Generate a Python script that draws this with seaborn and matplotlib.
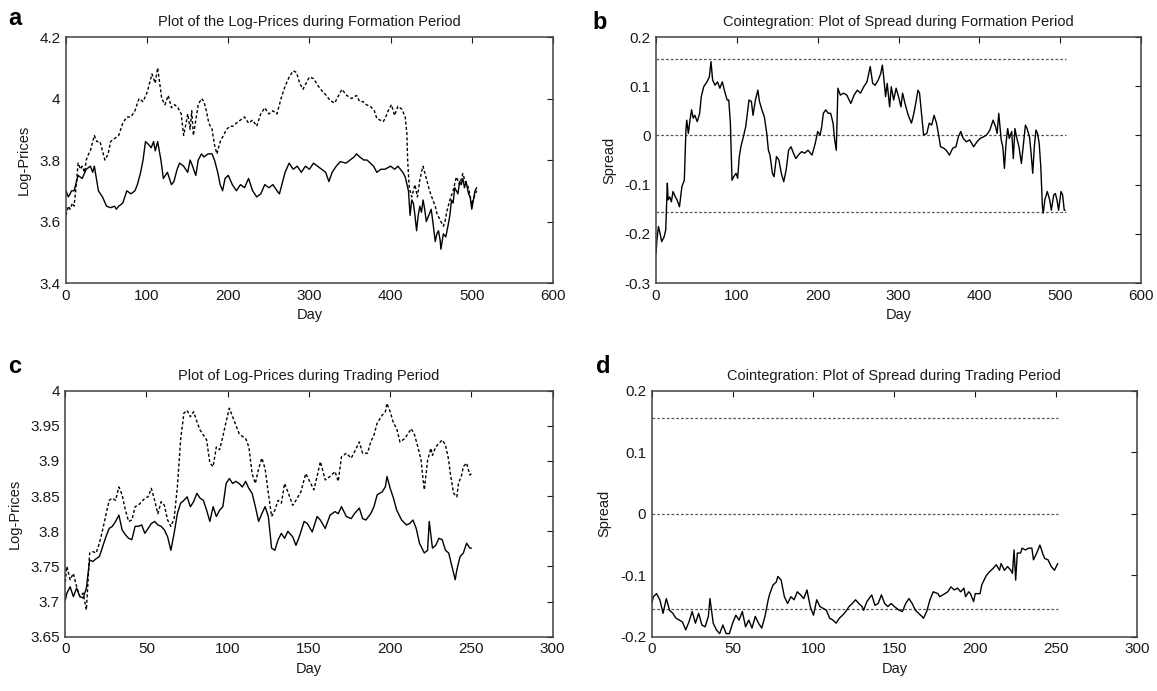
import numpy as np
import matplotlib
matplotlib.use("Agg")
import matplotlib.pyplot as plt
import seaborn as sns

# ---- panel a: log-prices, formation period ----
a_day_1 = [0, 3, 7, 10, 15, 20, 25, 30, 33, 35, 40, 45, 50, 55, 60, 62, 65, 70, 75, 80, 85, 88, 92, 95,
           98, 102, 105, 108, 110, 113, 117, 120, 125, 130, 133, 137, 140, 145, 150, 153, 156, 160, 163,
           167, 170, 175, 180, 183, 187, 190, 193, 196, 200, 205, 210, 215, 220, 225, 230, 235, 240, 245,
           250, 255, 260, 263, 266, 270, 275, 280, 285, 290, 295, 300, 305, 310, 315, 320, 324, 328, 333,
           338, 345, 350, 355, 358, 362, 367, 371, 375, 379, 383, 388, 393, 400, 405, 409, 412, 415, 418,
           422, 424, 426, 428, 430, 432, 434, 436, 438, 440, 442, 444, 447, 450, 452, 455, 457, 459, 461,
           462, 465, 468, 471, 473, 475, 477, 479, 481, 483, 485, 487, 489, 491, 493, 496, 498, 500, 502,
           504, 506]
a_price_1 = [3.70, 3.68, 3.70, 3.70, 3.75, 3.74, 3.77, 3.78, 3.76, 3.78, 3.70, 3.68, 3.65, 3.645, 3.65,
             3.64, 3.65, 3.66, 3.70, 3.69, 3.70, 3.72, 3.76, 3.80, 3.86, 3.85, 3.84, 3.86, 3.83, 3.86,
             3.80, 3.74, 3.76, 3.72, 3.73, 3.77, 3.79, 3.78, 3.76, 3.80, 3.78, 3.75, 3.80, 3.82, 3.81,
             3.82, 3.82, 3.80, 3.76, 3.72, 3.70, 3.74, 3.75, 3.72, 3.70, 3.72, 3.71, 3.74, 3.70, 3.68,
             3.69, 3.72, 3.71, 3.72, 3.70, 3.69, 3.72, 3.76, 3.79, 3.77, 3.78, 3.76, 3.78, 3.77, 3.79,
             3.78, 3.77, 3.76, 3.73, 3.76, 3.78, 3.795, 3.79, 3.80, 3.81, 3.82, 3.81, 3.80, 3.80, 3.79,
             3.78, 3.76, 3.77, 3.77, 3.78, 3.77, 3.78, 3.77, 3.76, 3.745, 3.70, 3.62, 3.67, 3.66, 3.62,
             3.57, 3.62, 3.65, 3.63, 3.67, 3.64, 3.60, 3.62, 3.64, 3.60, 3.535, 3.56, 3.57, 3.54, 3.51,
             3.56, 3.55, 3.59, 3.62, 3.67, 3.66, 3.71, 3.70, 3.69, 3.73, 3.72, 3.74, 3.71, 3.73, 3.69,
             3.68, 3.64, 3.67, 3.70, 3.71]

a_day_2 = [0, 3, 5, 8, 10, 12, 15, 18, 20, 23, 25, 28, 30, 33, 35, 38, 42, 45, 48, 52, 55, 60, 65, 70,
           75, 80, 85, 90, 95, 100, 103, 106, 110, 113, 115, 118, 122, 126, 130, 134, 138, 142, 145,
           148, 150, 153, 155, 157, 160, 163, 167, 170, 173, 176, 180, 183, 186, 190, 194, 198, 202,
           206, 210, 215, 220, 225, 230, 235, 240, 245, 250, 255, 260, 265, 270, 275, 280, 284, 288,
           292, 296, 300, 305, 311, 317, 321, 325, 331, 336, 340, 346, 352, 358, 362, 366, 370, 375,
           380, 383, 387, 391, 394, 397, 401, 405, 409, 414, 418, 420, 421, 423, 426, 428, 430, 433,
           436, 438, 440, 442, 444, 446, 448, 452, 455, 457, 461, 465, 467, 469, 473, 477, 481, 485,
           489, 492, 496, 500, 503, 506]
a_price_2 = [3.62, 3.65, 3.64, 3.66, 3.65, 3.70, 3.79, 3.77, 3.78, 3.76, 3.80, 3.82, 3.83, 3.86, 3.88,
             3.86, 3.86, 3.83, 3.80, 3.82, 3.86, 3.87, 3.88, 3.92, 3.94, 3.94, 3.96, 4.00, 3.99, 4.02,
             4.05, 4.08, 4.05, 4.10, 4.06, 4.00, 3.98, 4.01, 3.97, 3.98, 3.97, 3.95, 3.88, 3.92, 3.95,
             3.90, 3.96, 3.88, 3.93, 3.98, 4.00, 3.99, 3.96, 3.92, 3.90, 3.85, 3.82, 3.86, 3.88, 3.90,
             3.91, 3.91, 3.92, 3.93, 3.94, 3.92, 3.93, 3.91, 3.95, 3.97, 3.95, 3.96, 3.95, 4.00, 4.04,
             4.07, 4.09, 4.085, 4.05, 4.03, 4.05, 4.07, 4.065, 4.04, 4.02, 4.01, 3.995, 3.985, 4.01,
             4.03, 4.01, 4.00, 4.01, 3.99, 3.99, 3.98, 3.975, 3.96, 3.935, 3.93, 3.925, 3.94, 3.96,
             3.98, 3.945, 3.975, 3.965, 3.94, 3.887, 3.80, 3.71, 3.68, 3.70, 3.72, 3.68, 3.735, 3.76,
             3.78, 3.76, 3.74, 3.72, 3.70, 3.67, 3.65, 3.627, 3.605, 3.585, 3.60, 3.63, 3.67, 3.70,
             3.745, 3.72, 3.756, 3.73, 3.71, 3.655, 3.68, 3.70]

# ---- panel b: spread, formation period ----
b_day = [0, 1, 3, 5, 7, 10, 12, 14, 15, 17, 19, 21, 24, 26, 29, 32, 35, 37, 38, 40, 42, 44, 46, 48, 51,
         54, 56, 59, 63, 66, 68, 70, 73, 76, 79, 82, 85, 88, 90, 92, 94, 96, 99, 101, 103, 105, 108,
         111, 113, 115, 118, 120, 123, 126, 128, 131, 134, 137, 139, 141, 144, 146, 149, 152, 155, 158,
         161, 164, 167, 170, 173, 176, 180, 184, 188, 193, 197, 200, 203, 205, 207, 210, 213, 216, 219,
         221, 223, 225, 228, 232, 236, 241, 245, 249, 253, 257, 261, 265, 268, 271, 275, 278, 280, 282,
         284, 286, 289, 291, 294, 297, 300, 303, 305, 308, 312, 316, 319, 322, 324, 326, 328, 331, 335,
         338, 341, 344, 347, 350, 352, 356, 359, 363, 367, 371, 374, 377, 380, 384, 388, 393, 397, 401,
         405, 409, 413, 417, 420, 422, 424, 427, 429, 431, 433, 435, 437, 440, 442, 444, 446, 449, 452,
         455, 457, 459, 462, 464, 466, 468, 470, 472, 474, 476, 478, 479, 481, 484, 487, 489, 492, 494,
         496, 498, 501, 503, 505, 506]
b_spread = [-0.24, -0.215, -0.185, -0.199, -0.216, -0.206, -0.192, -0.097, -0.131, -0.125, -0.135,
            -0.114, -0.125, -0.131, -0.145, -0.104, -0.091, 0.011, 0.031, 0.004, 0.031, 0.052, 0.035,
            0.041, 0.028, 0.045, 0.079, 0.099, 0.109, 0.119, 0.150, 0.113, 0.102, 0.109, 0.096, 0.109,
            0.089, 0.072, 0.072, 0.025, -0.091, -0.084, -0.077, -0.087, -0.043, -0.023, -0.003, 0.018,
            0.045, 0.072, 0.069, 0.041, 0.072, 0.092, 0.069, 0.052, 0.038, 0.004, -0.030, -0.040,
            -0.077, -0.084, -0.043, -0.050, -0.077, -0.094, -0.070, -0.030, -0.023, -0.036, -0.047,
            -0.040, -0.033, -0.036, -0.030, -0.040, -0.016, 0.008, 0.001, 0.018, 0.045, 0.052, 0.045,
            0.045, 0.025, -0.009, -0.030, 0.096, 0.082, 0.086, 0.082, 0.065, 0.082, 0.092, 0.086, 0.099,
            0.109, 0.140, 0.106, 0.102, 0.113, 0.126, 0.143, 0.113, 0.079, 0.106, 0.058, 0.099, 0.072,
            0.096, 0.079, 0.058, 0.086, 0.065, 0.041, 0.025, 0.045, 0.072, 0.092, 0.086, 0.052, 0.001,
            0.004, 0.025, 0.021, 0.041, 0.025, -0.003, -0.023, -0.026, -0.030, -0.040, -0.026, -0.023,
            -0.003, 0.008, -0.006, -0.013, -0.009, -0.023, -0.013, -0.006, -0.003, 0.001, 0.011, 0.031,
            0.018, 0.004, 0.045, -0.009, -0.023, -0.067, -0.016, 0.014, -0.006, 0.008, -0.047, 0.014,
            -0.003, -0.023, -0.057, -0.009, 0.021, 0.014, -0.003, -0.036, -0.077, -0.023, 0.011, 0.004,
            -0.016, -0.064, -0.145, -0.158, -0.131, -0.114, -0.131, -0.152, -0.121, -0.118, -0.131,
            -0.152, -0.114, -0.121, -0.152, -0.152]

# ---- panel c: log-prices, trading period ----
c_day_1 = [0, 1, 3, 5, 7, 9, 11, 13, 15, 17, 19, 21, 23, 25, 27, 29, 31, 33, 35, 37, 39, 41, 43, 45, 47,
           49, 51, 53, 55, 57, 59, 61, 63, 65, 67, 69, 71, 73, 75, 77, 79, 81, 83, 85, 87, 89, 91, 93, 95,
           97, 99, 101, 103, 105, 107, 109, 111, 113, 115, 117, 119, 121, 123, 125, 127, 129, 131, 133,
           135, 137, 140, 142, 144, 147, 149, 152, 155, 157, 160, 163, 166, 168, 170, 173, 176, 178, 181,
           183, 185, 188, 190, 192, 195, 197, 198, 200, 202, 204, 207, 210, 212, 214, 216, 218, 221, 223,
           224, 226, 228, 230, 232, 234, 236, 238, 240, 241, 243, 245, 247, 249, 250]
c_price_1 = [3.702, 3.712, 3.721, 3.707, 3.719, 3.707, 3.705, 3.719, 3.759, 3.757, 3.761, 3.764, 3.778,
             3.792, 3.804, 3.807, 3.814, 3.823, 3.802, 3.795, 3.790, 3.788, 3.807, 3.807, 3.809, 3.797,
             3.804, 3.811, 3.814, 3.809, 3.807, 3.802, 3.792, 3.773, 3.797, 3.825, 3.840, 3.844, 3.849,
             3.835, 3.842, 3.854, 3.847, 3.844, 3.830, 3.814, 3.835, 3.821, 3.830, 3.835, 3.868, 3.875,
             3.868, 3.871, 3.868, 3.863, 3.871, 3.861, 3.854, 3.835, 3.814, 3.825, 3.835, 3.821, 3.776,
             3.773, 3.788, 3.797, 3.790, 3.800, 3.792, 3.780, 3.792, 3.814, 3.811, 3.799, 3.821, 3.816,
             3.804, 3.823, 3.828, 3.825, 3.835, 3.821, 3.818, 3.825, 3.833, 3.818, 3.816, 3.825, 3.835,
             3.852, 3.856, 3.863, 3.878, 3.861, 3.847, 3.830, 3.816, 3.809, 3.811, 3.816, 3.804, 3.783,
             3.769, 3.773, 3.814, 3.776, 3.780, 3.790, 3.788, 3.773, 3.769, 3.750, 3.731, 3.745, 3.764,
             3.769, 3.783, 3.776, 3.776]

c_day_2 = [0, 1, 3, 5, 7, 9, 11, 13, 15, 17, 19, 21, 23, 25, 27, 29, 31, 33, 35, 37, 39, 41, 43, 45, 47,
           49, 51, 53, 55, 57, 59, 61, 63, 65, 67, 69, 71, 73, 75, 77, 79, 81, 83, 85, 87, 89, 91, 93, 95,
           97, 99, 101, 103, 105, 107, 109, 111, 113, 115, 117, 119, 121, 123, 125, 127, 129, 131, 133,
           135, 137, 140, 142, 145, 148, 150, 153, 155, 157, 160, 163, 166, 168, 170, 173, 176, 178, 181,
           183, 186, 188, 190, 192, 195, 197, 198, 200, 202, 204, 206, 209, 211, 213, 215, 217, 219, 220,
           221, 223, 225, 226, 228, 230, 232, 234, 236, 237, 239, 241, 242, 244, 245, 247, 249, 250]
c_price_2 = [3.728, 3.750, 3.731, 3.740, 3.721, 3.707, 3.712, 3.688, 3.769, 3.771, 3.769, 3.783, 3.802,
             3.823, 3.844, 3.847, 3.844, 3.863, 3.852, 3.830, 3.814, 3.816, 3.835, 3.837, 3.842, 3.847,
             3.849, 3.861, 3.844, 3.825, 3.842, 3.837, 3.816, 3.807, 3.818, 3.863, 3.930, 3.968, 3.972,
             3.963, 3.970, 3.956, 3.944, 3.937, 3.930, 3.897, 3.892, 3.920, 3.916, 3.935, 3.956, 3.975,
             3.963, 3.951, 3.939, 3.935, 3.932, 3.920, 3.882, 3.868, 3.889, 3.904, 3.889, 3.854, 3.821,
             3.830, 3.844, 3.840, 3.868, 3.856, 3.837, 3.844, 3.856, 3.882, 3.873, 3.859, 3.878, 3.899,
             3.873, 3.878, 3.885, 3.871, 3.906, 3.911, 3.904, 3.913, 3.927, 3.911, 3.911, 3.927, 3.937,
             3.954, 3.965, 3.970, 3.982, 3.970, 3.954, 3.946, 3.927, 3.932, 3.939, 3.946, 3.937, 3.920,
             3.901, 3.878, 3.859, 3.901, 3.918, 3.908, 3.920, 3.925, 3.930, 3.923, 3.901, 3.882, 3.854,
             3.849, 3.868, 3.880, 3.892, 3.897, 3.880, 3.882]

# ---- panel d: spread, trading period ----
d_day = [0, 1, 3, 5, 7, 9, 11, 13, 15, 17, 19, 21, 23, 25, 27, 29, 31, 33, 35, 36, 38, 40, 42, 44, 46,
         48, 50, 52, 54, 56, 58, 60, 62, 64, 66, 68, 70, 72, 73, 75, 77, 78, 80, 82, 84, 86, 88, 90, 92,
         94, 96, 98, 100, 102, 104, 106, 108, 110, 112, 114, 116, 118, 120, 122, 124, 126, 128, 130, 131,
         133, 136, 138, 140, 142, 144, 146, 148, 150, 153, 155, 157, 159, 161, 163, 165, 167, 168, 170,
         172, 174, 177, 178, 180, 183, 185, 187, 189, 191, 193, 194, 196, 197, 199, 200, 203, 204, 206,
         207, 209, 211, 213, 215, 216, 218, 220, 222, 223, 224, 225, 226, 228, 229, 231, 233, 235, 236,
         238, 240, 242, 243, 245, 247, 249, 251]
d_spread = [-0.146, -0.135, -0.130, -0.140, -0.162, -0.138, -0.157, -0.162, -0.170, -0.173, -0.176,
            -0.189, -0.176, -0.159, -0.178, -0.162, -0.181, -0.184, -0.167, -0.138, -0.178, -0.189,
            -0.195, -0.181, -0.195, -0.195, -0.178, -0.165, -0.173, -0.159, -0.184, -0.173, -0.186,
            -0.167, -0.178, -0.186, -0.167, -0.140, -0.130, -0.116, -0.111, -0.102, -0.108, -0.135,
            -0.146, -0.135, -0.140, -0.127, -0.132, -0.138, -0.124, -0.151, -0.165, -0.140, -0.151,
            -0.154, -0.157, -0.170, -0.173, -0.178, -0.170, -0.165, -0.159, -0.151, -0.146, -0.140,
            -0.146, -0.151, -0.157, -0.143, -0.132, -0.149, -0.146, -0.132, -0.146, -0.151, -0.146,
            -0.151, -0.157, -0.159, -0.146, -0.138, -0.146, -0.157, -0.162, -0.167, -0.170, -0.159,
            -0.140, -0.127, -0.130, -0.135, -0.132, -0.127, -0.119, -0.124, -0.121, -0.127, -0.121,
            -0.135, -0.127, -0.130, -0.143, -0.130, -0.130, -0.116, -0.105, -0.100, -0.094, -0.089,
            -0.083, -0.092, -0.081, -0.092, -0.086, -0.092, -0.097, -0.059, -0.108, -0.064, -0.064,
            -0.056, -0.059, -0.056, -0.056, -0.075, -0.064, -0.051, -0.067, -0.073, -0.075, -0.086,
            -0.092, -0.081]

threshold = 0.155
b_last_day = 507
d_last_day = 251

sns.set_style("white")
plt.rcParams['font.family'] = ['Liberation Sans', 'DejaVu Sans']

fig = plt.figure(figsize=(11.57, 6.91), dpi=100)
ax_a = fig.add_axes([0.0570, 0.5904, 0.4209, 0.3560])
ax_b = fig.add_axes([0.5670, 0.5904, 0.4192, 0.3560])
ax_c = fig.add_axes([0.0564, 0.0786, 0.4213, 0.3560])
ax_d = fig.add_axes([0.5633, 0.0786, 0.4194, 0.3560])

dash = (0, (2.2, 1.6))
ink = '0.1'


def style_axes(ax, title, ylabel):
    ax.set_title(title, fontsize=10.5, pad=8, color=ink)
    ax.set_xlabel("Day", fontsize=10.5, labelpad=4, color=ink)
    ax.set_ylabel(ylabel, fontsize=10.5, labelpad=6, color=ink)
    ax.tick_params(direction='in', top=True, right=True, length=4, width=0.8,
                   labelsize=11, pad=4, colors=ink)
    for s in ax.spines.values():
        s.set_color('0.25')
        s.set_linewidth(1.1)


def spread_lines(ax, last_day):
    for lvl in [threshold, 0, -threshold]:
        ax.hlines(lvl, 0, last_day, colors='0.35', linestyles=[dash], linewidth=0.9)


# a
sns.lineplot(x=a_day_1, y=a_price_1, ax=ax_a, color='black', linewidth=1.0, estimator=None)
sns.lineplot(x=a_day_2, y=a_price_2, ax=ax_a, color='black', linewidth=1.0, estimator=None,
             linestyle=dash)
ax_a.set_xlim(0, 600)
ax_a.set_ylim(3.4, 4.2)
ax_a.set_xticks(range(0, 601, 100))
ax_a.set_yticks([3.4, 3.6, 3.8, 4.0, 4.2])
ax_a.set_yticklabels(['3.4', '3.6', '3.8', '4', '4.2'])
style_axes(ax_a, "Plot of the Log-Prices during Formation Period", "Log-Prices")

# b
spread_lines(ax_b, b_last_day)
sns.lineplot(x=b_day, y=b_spread, ax=ax_b, color='black', linewidth=1.0, estimator=None)
ax_b.set_xlim(0, 600)
ax_b.set_ylim(-0.3, 0.2)
ax_b.set_xticks(range(0, 601, 100))
ax_b.set_yticks([-0.3, -0.2, -0.1, 0, 0.1, 0.2])
ax_b.set_yticklabels(['-0.3', '-0.2', '-0.1', '0', '0.1', '0.2'])
style_axes(ax_b, "Cointegration: Plot of Spread during Formation Period", "Spread")

# c
sns.lineplot(x=c_day_1, y=c_price_1, ax=ax_c, color='black', linewidth=1.0, estimator=None)
sns.lineplot(x=c_day_2, y=c_price_2, ax=ax_c, color='black', linewidth=1.0, estimator=None,
             linestyle=dash)
ax_c.set_xlim(0, 300)
ax_c.set_ylim(3.65, 4.0)
ax_c.set_xticks(range(0, 301, 50))
ax_c.set_yticks([3.65, 3.7, 3.75, 3.8, 3.85, 3.9, 3.95, 4.0])
ax_c.set_yticklabels(['3.65', '3.7', '3.75', '3.8', '3.85', '3.9', '3.95', '4'])
style_axes(ax_c, "Plot of Log-Prices during Trading Period", "Log-Prices")

# d
spread_lines(ax_d, d_last_day)
sns.lineplot(x=d_day, y=d_spread, ax=ax_d, color='black', linewidth=1.0, estimator=None)
ax_d.set_xlim(0, 300)
ax_d.set_ylim(-0.2, 0.2)
ax_d.set_xticks(range(0, 301, 50))
ax_d.set_yticks([-0.2, -0.1, 0, 0.1, 0.2])
ax_d.set_yticklabels(['-0.2', '-0.1', '0', '0.1', '0.2'])
style_axes(ax_d, "Cointegration: Plot of Spread during Trading Period", "Spread")

# panel letters
for letter, x, y in [('a', 8, 25), ('b', 592, 29), ('c', 8, 373), ('d', 596, 373)]:
    fig.text(x / 1157, 1 - y / 691, letter, fontsize=17, fontweight='bold', ha='left',
             va='baseline', color='black')

fig.savefig("out.png", dpi=100)
